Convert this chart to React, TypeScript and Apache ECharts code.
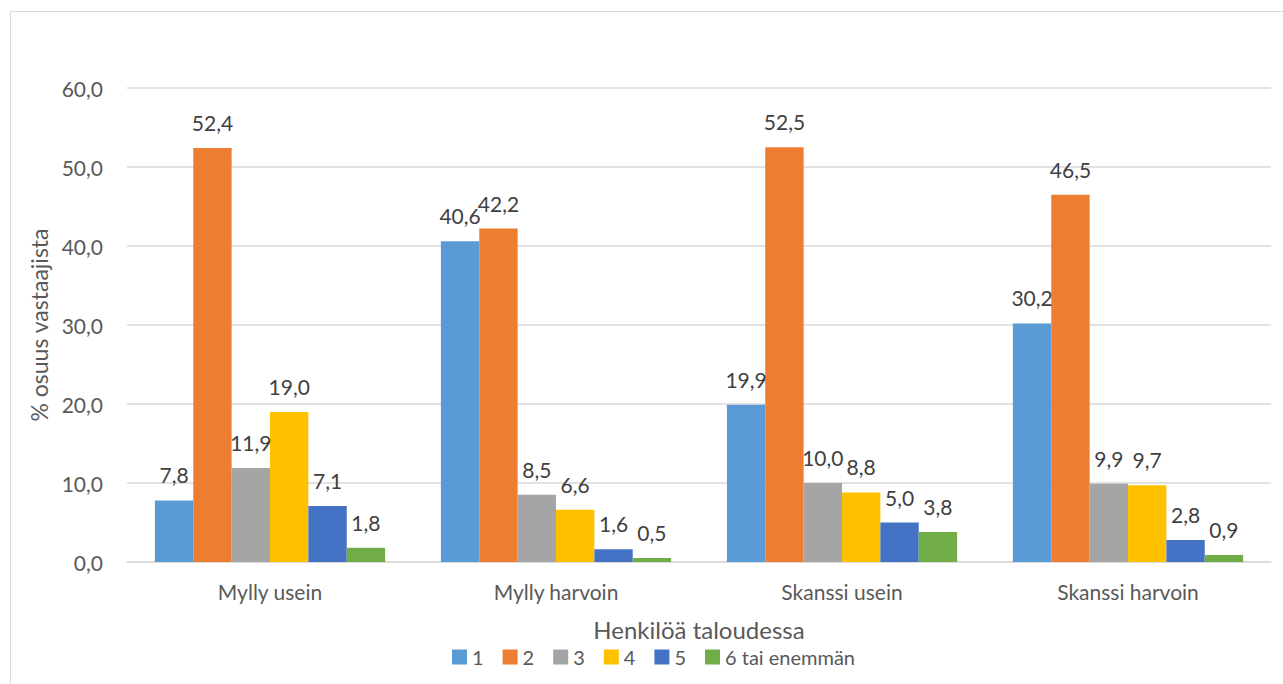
import React, { useEffect, useRef } from "react";
import * as echarts from "echarts";

const categories = ["Mylly usein", "Mylly harvoin", "Skanssi usein", "Skanssi harvoin"];
const seriesNames = ["1", "2", "3", "4", "5", "6 tai enemmän"];
const s1 = [7.8, 40.6, 19.9, 30.2];
const s2 = [52.4, 42.2, 52.5, 46.5];
const s3 = [11.9, 8.5, 10.0, 9.9];
const s4 = [19.0, 6.6, 8.8, 9.7];
const s5 = [7.1, 1.6, 5.0, 2.8];
const s6 = [1.8, 0.5, 3.8, 0.9];
const colors = ["#5B9BD5", "#ED7D31", "#A5A5A5", "#FFC000", "#4472C4", "#70AD47"];

const FONT = "Lato, 'Noto Sans', sans-serif";
const TEXT = "#595959";

const fmt = (v: number) => v.toFixed(1).replace(".", ",");

export default function App() {
  const ref = useRef<HTMLDivElement>(null);
  useEffect(() => {
    if (!ref.current) return;
    const chart = echarts.init(ref.current, undefined, { renderer: "svg" });
    const data = [s1, s2, s3, s4, s5, s6];
    chart.setOption({
      animation: false,
      textStyle: { fontFamily: FONT },
      graphic: [
        {
          type: "rect",
          shape: { x: 10.5, y: 11.5, width: 1400, height: 800 },
          style: { fill: "none", stroke: "#d9d9d9", lineWidth: 1 },
          silent: true,
        },
      ],
      grid: { left: 127, right: 12, top: 88, bottom: 122 },
      legend: {
        data: seriesNames,
        left: 452,
        top: 647,
        padding: 0,
        itemWidth: 15,
        itemHeight: 15,
        itemGap: 19,
        icon: "rect",
        textStyle: { fontFamily: FONT, fontSize: 20, lineHeight: 16, color: TEXT },
      },
      xAxis: {
        type: "category",
        data: categories,
        name: "Henkilöä taloudessa",
        nameLocation: "middle",
        nameGap: 57,
        nameTextStyle: { fontFamily: FONT, fontSize: 24, lineHeight: 20, color: TEXT },
        axisTick: { show: false },
        axisLine: { lineStyle: { color: "#d9d9d9", width: 1.5 } },
        axisLabel: { fontFamily: FONT, fontSize: 21, color: TEXT, margin: 19 },
      },
      yAxis: {
        type: "value",
        min: 0,
        max: 60,
        interval: 10,
        name: "% osuus vastaajista",
        nameLocation: "middle",
        nameGap: 76,
        nameTextStyle: { fontFamily: FONT, fontSize: 23, color: TEXT },
        axisLine: { show: false },
        axisTick: { show: false },
        splitLine: { lineStyle: { color: "#d9d9d9", width: 1.5 } },
        axisLabel: {
          fontFamily: FONT,
          fontSize: 21,
          color: TEXT,
          margin: 24,
          formatter: (v: number) => fmt(v),
        },
      },
      series: data.map((d, i) => ({
        name: seriesNames[i],
        type: "bar",
        data: d,
        barGap: "0%",
        barCategoryGap: "19.5%",
        itemStyle: { color: colors[i] },
        label: {
          show: true,
          position: "top",
          distance: 15,
          fontFamily: FONT,
          fontSize: 21,
          color: "#404040",
          formatter: (p: any) => fmt(p.value),
        },
      })),
    });
    return () => chart.dispose();
  }, []);
  return (
    <div
      ref={ref}
      style={{ position: "fixed", left: 0, top: 0, width: 1283, height: 684, background: "#fff" }}
    />
  );
}
